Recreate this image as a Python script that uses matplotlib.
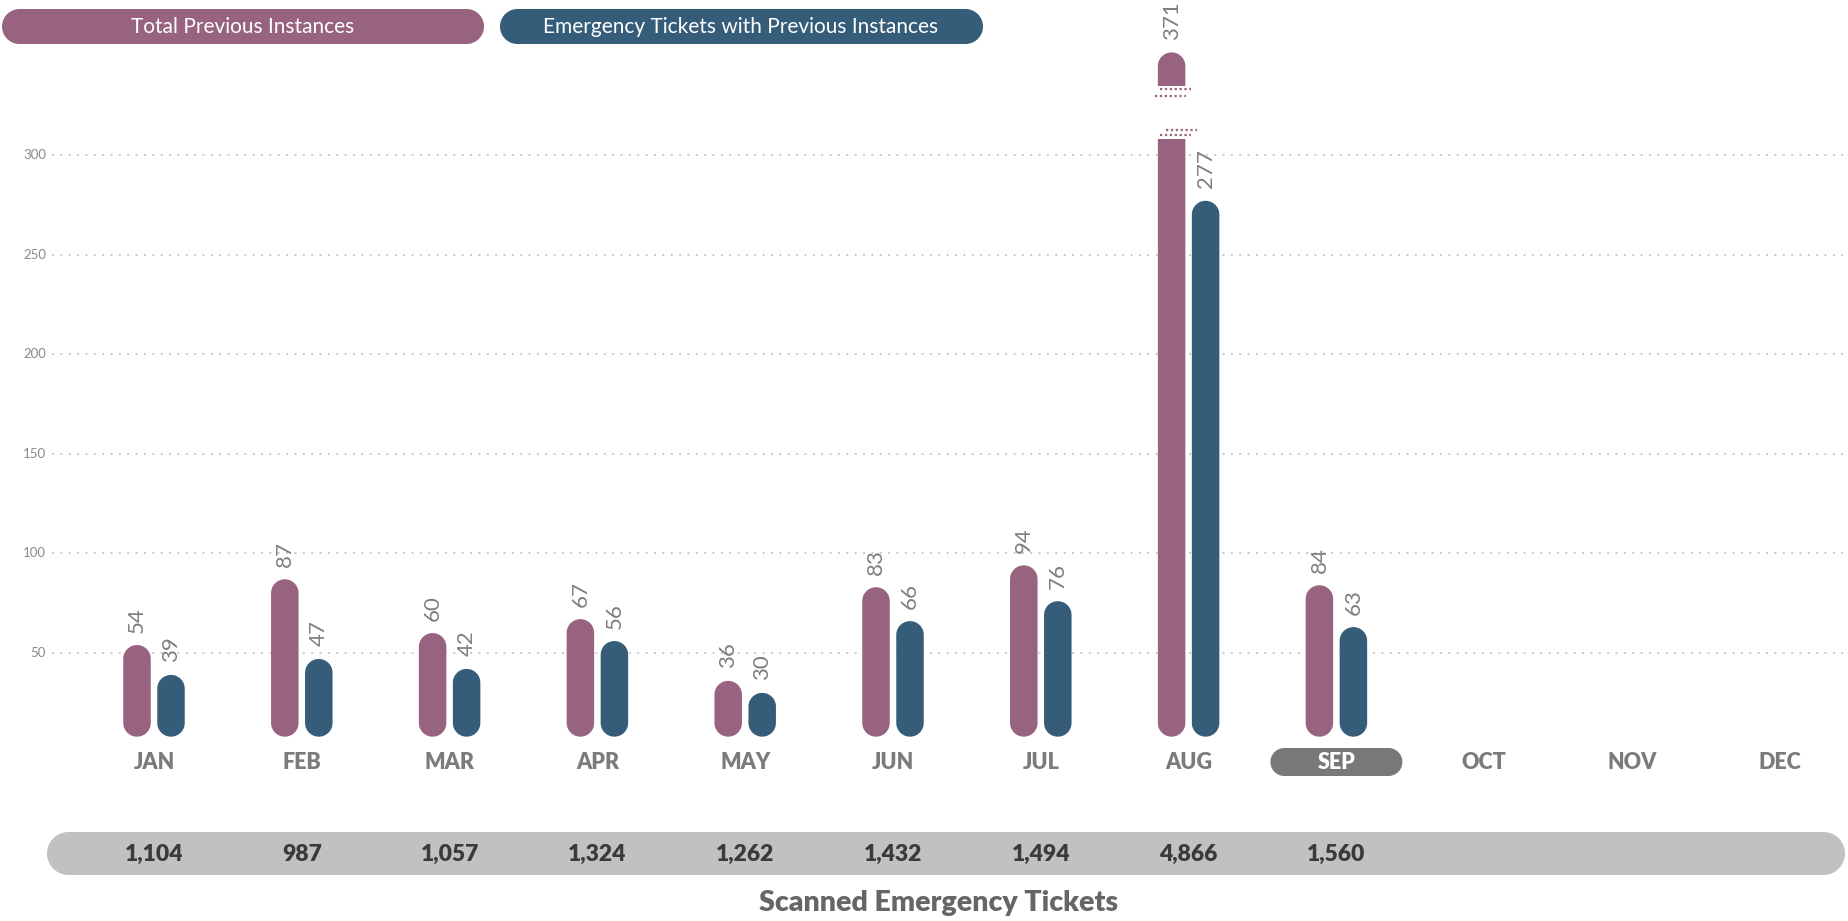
import numpy as np
import matplotlib.pyplot as plt
from matplotlib.patches import Polygon, Rectangle

plt.rcParams['font.family'] = ['Lato', 'DejaVu Sans']

# data
months = ['JAN', 'FEB', 'MAR', 'APR', 'MAY', 'JUN', 'JUL', 'AUG', 'SEP', 'OCT', 'NOV', 'DEC']
total_prev = [54, 87, 60, 67, 36, 83, 94, 371, 84]
emerg_prev = [39, 47, 42, 56, 30, 66, 76, 277, 63]
scanned = [1104, 987, 1057, 1324, 1262, 1432, 1494, 4866, 1560]
y_ticks = [50, 100, 150, 200, 250, 300]
current_month = 'SEP'

pink = '#97637f'
blue = '#355d7a'
grey_txt = '#7b7b7b'

W, H = 1848, 921
fig = plt.figure(figsize=(W / 100, H / 100), dpi=100)
ax = fig.add_axes([0, 0, 1, 1])
ax.axis('off')

# pixel layout -> data scale
X0, XSTEP = 154, 147.8      # px of JAN, px per month
Y0, YSCALE = 752.6, 1.992   # px of zero, px per unit
ax.set_xlim(-X0 / XSTEP, (W - X0) / XSTEP)
ax.set_ylim((Y0 - H) / YSCALE, Y0 / YSCALE)


def px_x(p):
    return (p - X0) / XSTEP


def px_y(p):
    return (Y0 - p) / YSCALE


def pill(x0, y0, w, h, color, r_px, **kw):
    # rounded rectangle in data coords, corner radius given in pixels
    rx, ry = r_px / XSTEP, r_px / YSCALE
    t = np.linspace(0, np.pi / 2, 20)
    pts = []
    for cx, cy, a in [(x0 + w - rx, y0 + h - ry, 0), (x0 + rx, y0 + h - ry, np.pi / 2),
                      (x0 + rx, y0 + ry, np.pi), (x0 + w - rx, y0 + ry, 1.5 * np.pi)]:
        pts += list(zip(cx + rx * np.cos(t + a), cy + ry * np.sin(t + a)))
    p = Polygon(pts, closed=True, fc=color, ec='none', **kw)
    ax.add_patch(p)
    return p


# gridlines + y labels
for t in y_ticks:
    ax.plot([px_x(52), px_x(W)], [t, t], color='#c9c9c9', lw=1.4,
            linestyle=(0, (1, 3.3)), zorder=0)
    ax.text(px_x(46), t, str(t), ha='right', va='center', fontsize=9.5,
            color='#8a8a8a')

bw = 27.5 / XSTEP
off = 17 / XSTEP
base = 8
y_break = 308            # AUG total is cut here
stub_lo, stub_hi = 334.5, 351.5
r = 13.7


def draw_bar(xc, v, color):
    if v <= y_break:
        pill(xc - bw / 2, base, bw, v - base, color, r, zorder=2)
        top = v
    else:
        lower = pill(xc - bw / 2, base, bw, y_break + 20 - base, color, r, zorder=2)
        lower.set_clip_path(Rectangle((xc - bw, base - 5), 2 * bw, y_break - base + 5,
                                      transform=ax.transData))
        upper = pill(xc - bw / 2, stub_lo - 20, bw, stub_hi - stub_lo + 20, color, r, zorder=2)
        upper.set_clip_path(Rectangle((xc - bw, stub_lo), 2 * bw, 40,
                                      transform=ax.transData))
        # break marks
        d = 4 / XSTEP
        for yy, sh in [(333.1, 2), (329.6, -3), (312.6, 8), (310.1, 2)]:
            ax.plot([xc - bw / 2 + sh / XSTEP, xc + bw / 2 + sh / XSTEP + d], [yy, yy],
                    color=color, lw=1.6, linestyle=(0, (1, 1.2)), zorder=3)
        top = stub_hi
    ax.annotate(str(v), (xc, top), xytext=(0, 9), textcoords='offset points',
                rotation=90, ha='center', va='bottom', fontsize=16,
                color='#7f7f7f')


for i, v in enumerate(total_prev):
    draw_bar(i - off, v, pink)
for i, v in enumerate(emerg_prev):
    draw_bar(i + off, v, blue)

# month labels
ym = px_y(762)
for i, m in enumerate(months):
    if m == current_month:
        pill(i - 66 / XSTEP, px_y(776), 132 / XSTEP, 28 / YSCALE, '#77787a', 14, zorder=1)
        ax.text(i, ym, m, ha='center', va='center', fontsize=15.5, fontweight='heavy',
                color='white')
    else:
        ax.text(i, ym, m, ha='center', va='center', fontsize=15.5, fontweight='heavy',
                color=grey_txt)

# scanned tickets band
pill(px_x(47), px_y(875), (1845 - 47) / XSTEP, 43 / YSCALE, '#c0c1c3', 21.5, zorder=1)
for i, v in enumerate(scanned):
    ax.text(i, px_y(854), f"{v:,}", ha='center', va='center', fontsize=16.5,
            fontweight='heavy', color='#3a3a3a')
ax.text(px_x(939), px_y(903), 'Scanned Emergency Tickets', ha='center', va='center',
        fontsize=20.5, fontweight='heavy', color='#666666')

# legend pills
pill(px_x(2), px_y(44), 482 / XSTEP, 35 / YSCALE, pink, 17.5, zorder=1)
pill(px_x(500), px_y(44), 483 / XSTEP, 35 / YSCALE, blue, 17.5, zorder=1)
ax.text(px_x(243), px_y(27), 'Total Previous Instances', ha='center', va='center',
        fontsize=15, color='white')
ax.text(px_x(741), px_y(27), 'Emergency Tickets with Previous Instances', ha='center',
        va='center', fontsize=15, color='white')

fig.savefig('out.png', dpi=100)
